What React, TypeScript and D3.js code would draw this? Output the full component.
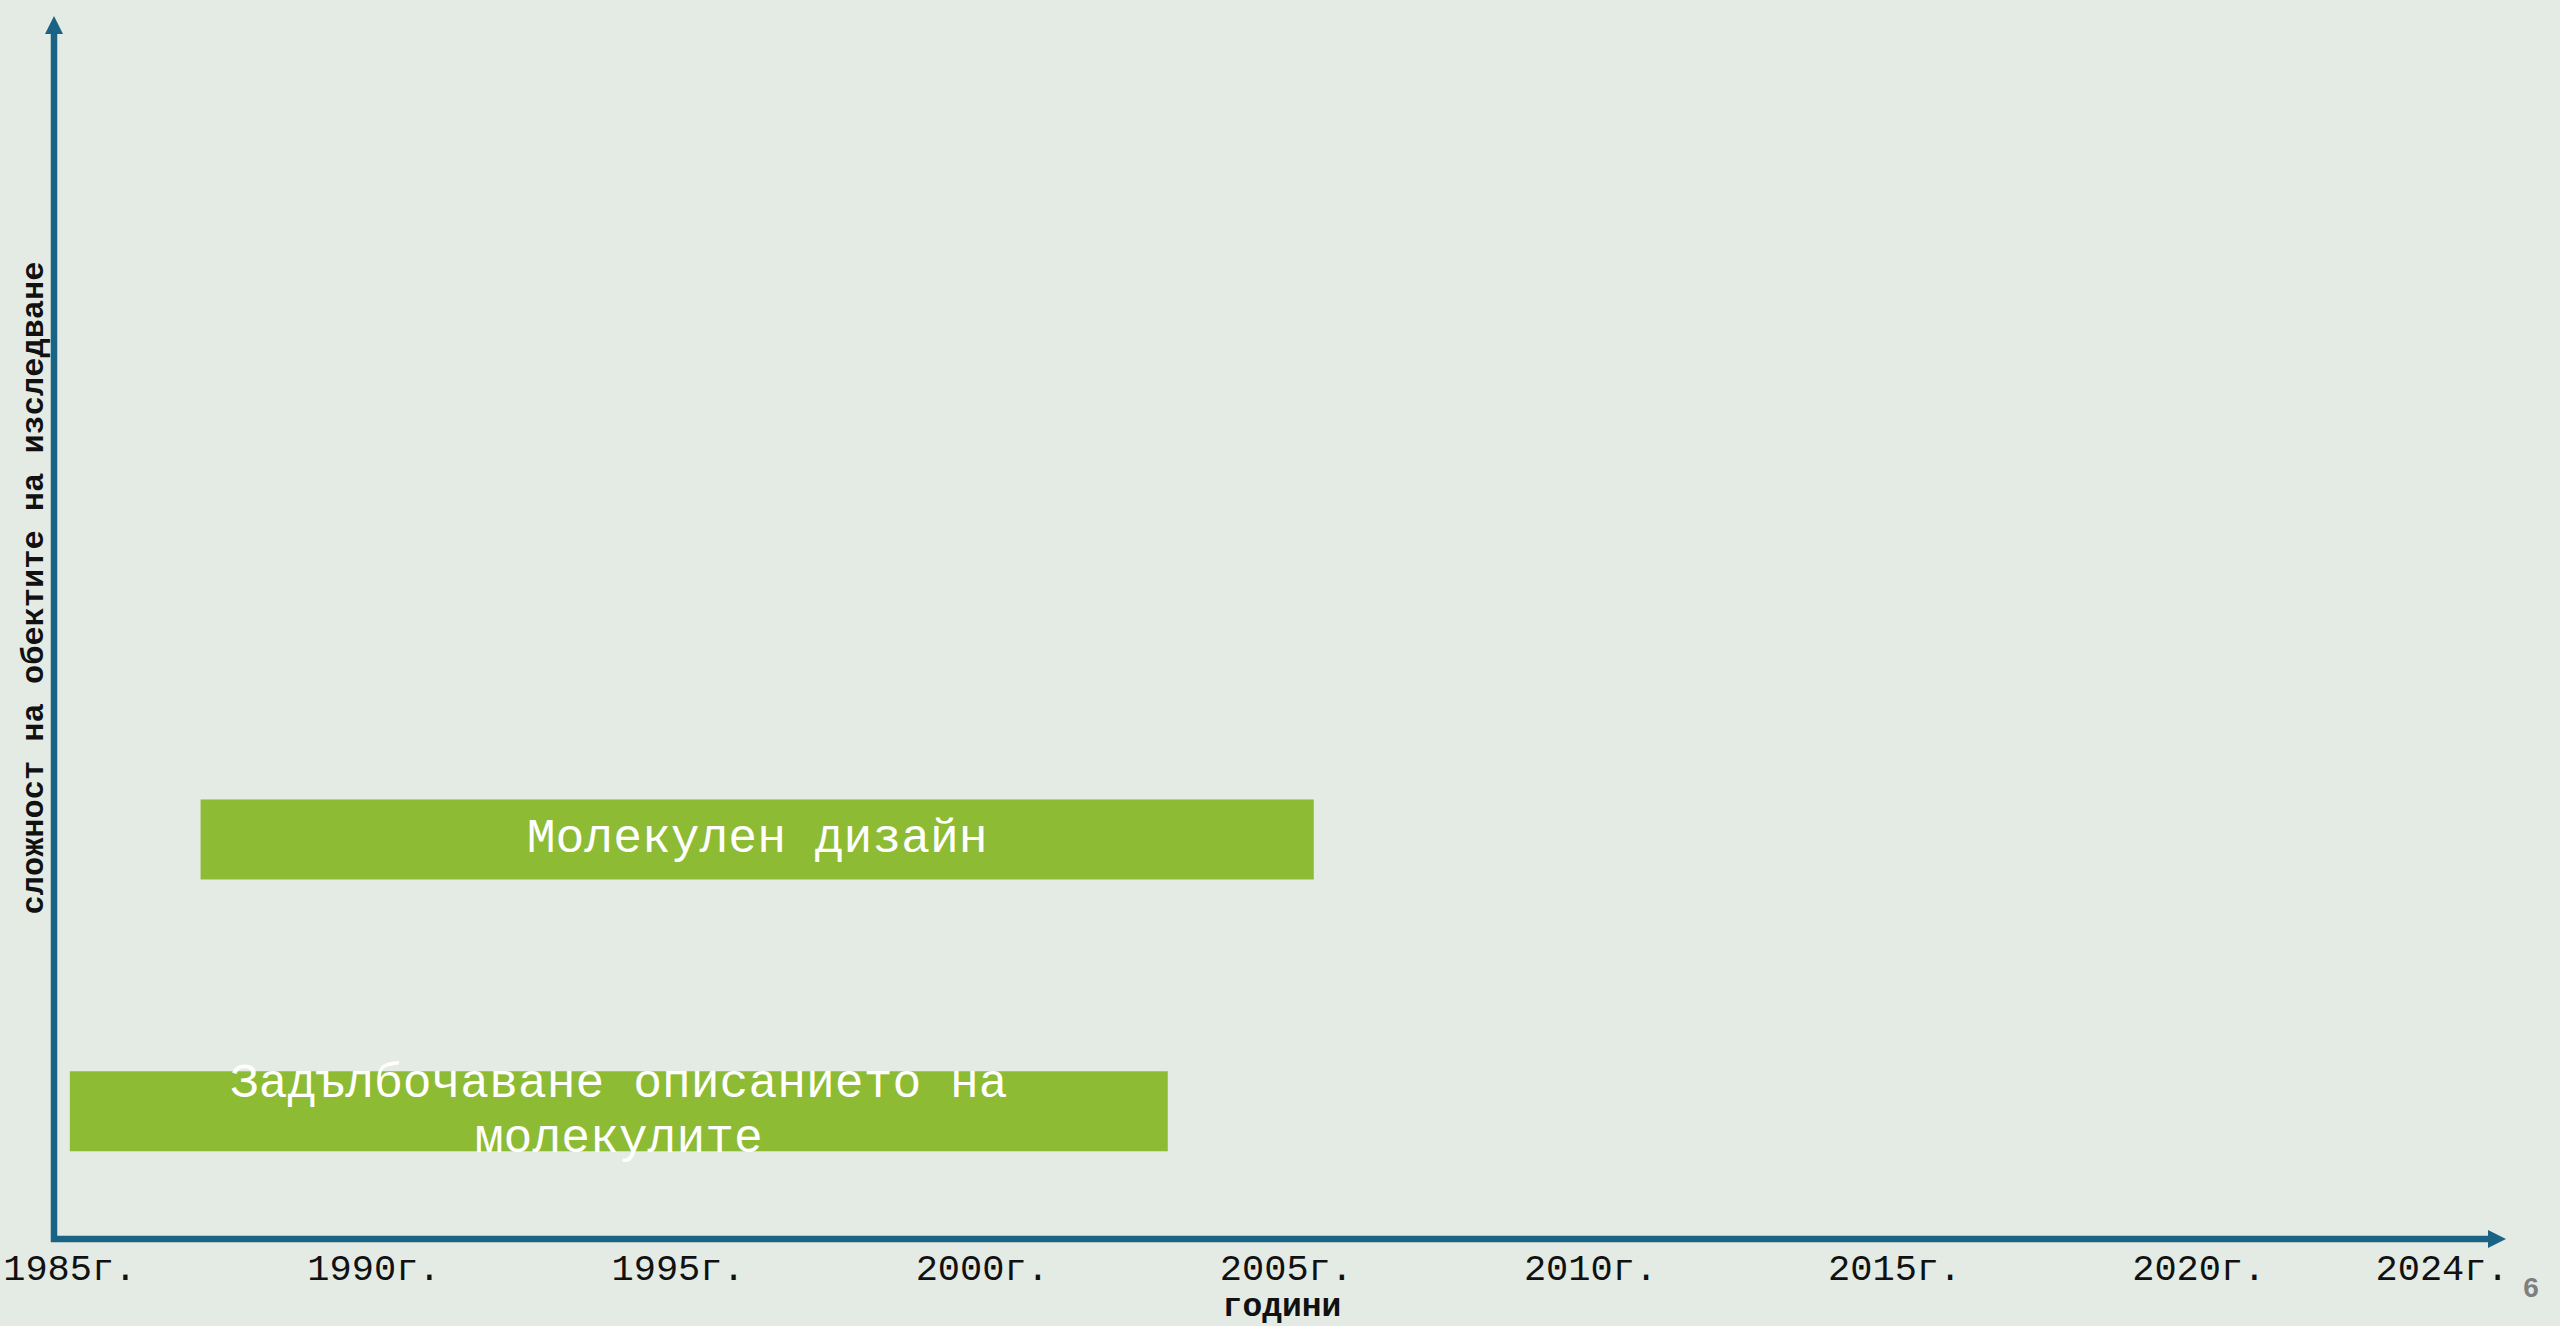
import React from "react";
import * as d3 from "d3";

// ---- data ----
const tickYears = [1985, 1990, 1995, 2000, 2005, 2010, 2015, 2020, 2024];
const tickLabels = ["1985г.", "1990г.", "1995г.", "2000г.", "2005г.", "2010г.", "2015г.", "2020г.", "2024г."];
const barLabels = ["Задълбочаване описанието на\nмолекулите", "Молекулен дизайн"];
const barStarts = [1985.0, 1987.15];
const barEnds = [2003.05, 2005.45];
const barLevels = [1, 2];
const xTitle = "години";
const yTitle = "сложност на обектите на изследване";
const pageNumber = "6";

// axis domains
const X_START = 1984.74;
const X_END = 2025.05;
const Y_MIN = 0.53;
const Y_MAX = 5.03;

const W = 2560;
const H = 1326;
const AXIS_COLOR = "#1b6385";
const BAR_COLOR = "#8dbb34";
const BG = "#e3ebe4";
const MONO = "'Liberation Mono', 'Courier New', monospace";

export default function App() {
  const x = d3.scaleLinear().domain([X_START, X_END]).range([54, 2506]);
  const y = d3.scaleLinear().domain([Y_MIN, Y_MAX]).range([1239, 16]);

  const axisX0 = x(X_START);
  const axisY0 = y(Y_MIN);
  const xTip = x(X_END);
  const yTip = y(Y_MAX);
  const head = 18;
  const barH = 80;
  const lineH = 55;

  return (
    <svg
      width={W}
      height={H}
      viewBox={`0 0 ${W} ${H}`}
      style={{ position: "absolute", left: 0, top: 0, display: "block" }}
    >
      <rect x={0} y={0} width={W} height={H} fill={BG} />

      {/* bars */}
      {barLabels.map((label, i) => {
        const x0 = x(barStarts[i]);
        const x1 = x(barEnds[i]);
        const cy = y(barLevels[i]);
        const lines = label.split("\n");
        const first = cy + 13 - ((lines.length - 1) * lineH) / 2;
        return (
          <g key={i}>
            <rect x={x0} y={cy - barH / 2} width={x1 - x0} height={barH} fill={BAR_COLOR} />
            <text
              textAnchor="middle"
              fontFamily={MONO}
              fontSize={48}
              fill="#ffffff"
            >
              {lines.map((ln, j) => (
                <tspan key={j} x={(x0 + x1) / 2} y={first + j * lineH}>
                  {ln}
                </tspan>
              ))}
            </text>
          </g>
        );
      })}

      {/* y axis */}
      <line x1={axisX0} x2={axisX0} y1={axisY0 + 3} y2={yTip + head} stroke={AXIS_COLOR} strokeWidth={6.5} />
      <path
        d={`M${axisX0},${yTip} L${axisX0 + head / 2},${yTip + head} L${axisX0 - head / 2},${yTip + head} Z`}
        fill={AXIS_COLOR}
      />
      {/* x axis */}
      <line x1={axisX0 - 3} x2={xTip - head} y1={axisY0} y2={axisY0} stroke={AXIS_COLOR} strokeWidth={6.5} />
      <path
        d={`M${xTip},${axisY0} L${xTip - head},${axisY0 - head / 2} L${xTip - head},${axisY0 + head / 2} Z`}
        fill={AXIS_COLOR}
      />

      {/* tick labels */}
      {tickYears.map((yr, i) => (
        <text
          key={yr}
          x={x(yr)}
          y={1280}
          textAnchor="middle"
          fontFamily={MONO}
          fontSize={37}
          fill="#111111"
        >
          {tickLabels[i]}
        </text>
      ))}

      {/* axis titles */}
      <text
        x={1282}
        y={1316}
        textAnchor="middle"
        fontFamily={MONO}
        fontWeight="bold"
        fontSize={33}
        fill="#111111"
      >
        {xTitle}
      </text>
      <text
        transform={`translate(43,588) rotate(-90)`}
        textAnchor="middle"
        fontFamily={MONO}
        fontWeight="bold"
        fontSize={32}
        fill="#111111"
      >
        {yTitle}
      </text>

      <text
        x={2531}
        y={1297}
        textAnchor="middle"
        fontFamily="'Liberation Sans', Arial, sans-serif"
        fontWeight="bold"
        fontSize={28}
        fill="#7f7f7f"
      >
        {pageNumber}
      </text>
    </svg>
  );
}
